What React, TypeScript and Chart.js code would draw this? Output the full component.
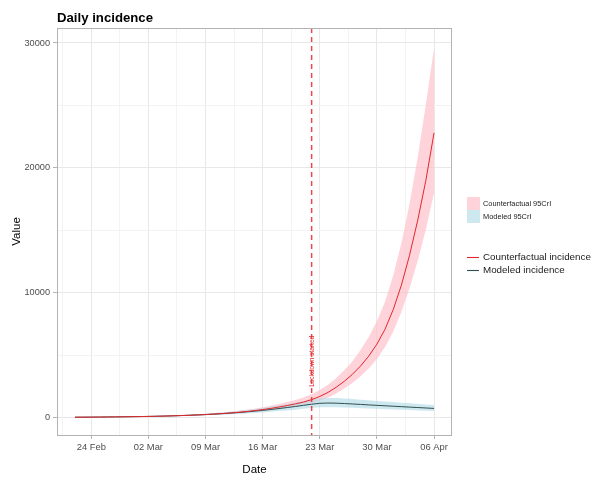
import React, { useEffect, useRef } from 'react';
import { Chart, registerables } from 'chart.js';

Chart.register(...registerables);

// ---------- data ----------
const START_DATE = '2020-02-22';
// day offsets from START_DATE (22 Feb .. 06 Apr)
const DAYS = [
  0, 1, 2, 3, 4, 5, 6, 7, 8, 9, 10, 11, 12, 13, 14, 15, 16, 17, 18, 19, 20, 21, 22,
  23, 24, 25, 26, 27, 28, 29, 30, 31, 32, 33, 34, 35, 36, 37, 38, 39, 40, 41, 42, 43, 44,
];

const counterfactual = [
  25, 29, 33, 38, 44, 50, 58, 67, 77, 89, 102, 118, 135, 156, 180, 207, 240, 275, 315, 362, 415, 478, 550,
  635, 730, 840, 960, 1090, 1240, 1430, 1690, 2010, 2420, 2900, 3460, 4130, 4920, 5880, 7080, 8650, 10600,
  13000, 15800, 19000, 22800,
];
const counterfactualLow = [
  20, 23, 26, 30, 35, 40, 46, 53, 61, 71, 81, 94, 108, 124, 143, 165, 191, 219, 251, 288, 331, 381, 438,
  506, 582, 670, 766, 870, 990, 1142, 1350, 1606, 1933, 2316, 2762, 3296, 3925, 4690, 5645, 6893, 8445,
  10350, 12560, 15080, 18000,
];
const counterfactualHigh = [
  32, 37, 42, 49, 56, 64, 74, 86, 99, 114, 131, 151, 173, 200, 231, 266, 308, 353, 404, 465, 533, 614, 707,
  817, 940, 1082, 1238, 1410, 1606, 1855, 2195, 2615, 3150, 3780, 4515, 5400, 6445, 7710, 9295, 11370, 13950,
  17120, 20840, 25100, 29600,
];
const modeled = [
  25, 29, 33, 38, 44, 50, 58, 67, 77, 89, 102, 118, 135, 156, 180, 207, 238, 272, 310, 352, 398, 450, 510,
  575, 645, 720, 800, 885, 975, 1065, 1140, 1160, 1150, 1120, 1085, 1050, 1010, 975, 940, 905, 870,
  835, 800, 765, 730,
];
const modeledLow = [
  20, 23, 26, 30, 34, 39, 45, 51, 58, 67, 76, 87, 100, 115, 132, 151, 173, 197, 224, 254, 287, 323, 365,
  410, 460, 515, 572, 632, 695, 760, 815, 830, 822, 800, 776, 750, 722, 696, 670, 645, 620,
  594, 568, 542, 515,
];
const modeledHigh = [
  31, 36, 41, 48, 55, 63, 73, 84, 97, 112, 129, 149, 171, 198, 228, 263, 303, 348, 398, 455, 518, 590, 672,
  762, 858, 962, 1072, 1188, 1310, 1435, 1540, 1570, 1560, 1520, 1475, 1430, 1378, 1330, 1285, 1238, 1192,
  1145, 1098, 1050, 1005,
];

const X_TICK_DAYS = [2, 9, 16, 23, 30, 37, 44];
const X_TICK_LABELS = ['24 Feb', '02 Mar', '09 Mar', '16 Mar', '23 Mar', '30 Mar', '06 Apr'];
const X_MINOR_DAYS = [-1.5, 5.5, 12.5, 19.5, 26.5, 33.5, 40.5];
const Y_TICKS = [0, 10000, 20000, 30000];
const Y_MINOR = [5000, 15000, 25000];

const LOCKDOWN_DAY = 29;
const LOCKDOWN_LABEL = 'Lockdown started';
const LOCKDOWN_LABEL_Y = 4500;

const TITLE = 'Daily incidence';
const X_TITLE = 'Date';
const Y_TITLE = 'Value';
const LEGEND_FILLS = ['Counterfactual 95CrI', 'Modeled 95CrI'];
const LEGEND_LINES = ['Counterfactual incidence', 'Modeled incidence'];

// ---------- styles ----------
const FONT = "'Liberation Sans', Arial, Helvetica, sans-serif";
const RED = '#e3262b';
const DASH_RED = 'rgba(230,40,45,0.85)';
const DARK = '#2f4f4f';
const PINK = 'rgba(255,192,203,0.7)';
const BLUE = 'rgba(173,216,230,0.6)';
const GRID_MAJOR = '#e8e8e8';
const GRID_MINOR = '#f3f3f3';
const BORDER = '#b3b3b3';
const TICK_TEXT = '#4d4d4d';

const pts = (vals: number[]) => DAYS.map((d, i) => ({ x: d, y: vals[i] }));

const overlayPlugin = {
  id: 'overlay',
  afterDatasetsDraw(chart: any) {
    const { ctx, chartArea: a, scales } = chart;
    const x = scales.x.getPixelForValue(LOCKDOWN_DAY);
    ctx.save();
    ctx.beginPath();
    ctx.rect(a.left, a.top, a.right - a.left, a.bottom - a.top);
    ctx.clip();
    ctx.strokeStyle = DASH_RED;
    ctx.lineWidth = 1.5;
    ctx.setLineDash([5, 4]);
    ctx.beginPath();
    ctx.moveTo(x, a.top);
    ctx.lineTo(x, a.bottom);
    ctx.stroke();
    ctx.setLineDash([]);
    ctx.translate(x + 1, scales.y.getPixelForValue(LOCKDOWN_LABEL_Y));
    ctx.rotate(-Math.PI / 2);
    ctx.fillStyle = RED;
    ctx.font = `6.5px ${FONT}`;
    ctx.textAlign = 'center';
    ctx.textBaseline = 'middle';
    ctx.fillText(LOCKDOWN_LABEL, 0, 0);
    ctx.restore();

    ctx.save();
    ctx.strokeStyle = BORDER;
    ctx.lineWidth = 1;
    ctx.strokeRect(a.left + 0.5, a.top + 0.5, a.right - a.left - 1, a.bottom - a.top);
    ctx.restore();
  },
  afterDraw(chart: any) {
    const { ctx, chartArea: a } = chart;
    ctx.save();
    // title
    ctx.fillStyle = '#000';
    ctx.font = `bold 13.2px ${FONT}`;
    ctx.textAlign = 'left';
    ctx.textBaseline = 'alphabetic';
    ctx.fillText(TITLE, a.left, 21.5);
    // axis titles
    ctx.font = `11.5px ${FONT}`;
    ctx.textAlign = 'center';
    ctx.textBaseline = 'middle';
    ctx.fillText(X_TITLE, (a.left + a.right) / 2, 470);
    ctx.save();
    ctx.translate(17, (a.top + a.bottom) / 2);
    ctx.rotate(-Math.PI / 2);
    ctx.fillText(Y_TITLE, 0, 0);
    ctx.restore();

    // legend: fills
    const lx = 467;
    const fillColors = [PINK, BLUE];
    ctx.textAlign = 'left';
    LEGEND_FILLS.forEach((label, i) => {
      const y = 197 + i * 13;
      ctx.fillStyle = fillColors[i];
      ctx.fillRect(lx, y, 13, 13);
      ctx.fillStyle = '#1a1a1a';
      ctx.font = `7.4px ${FONT}`;
      ctx.fillText(label, lx + 16, y + 6.5);
    });
    // legend: lines
    const lineColors = [RED, DARK];
    LEGEND_LINES.forEach((label, i) => {
      const y = 257.5 + i * 13;
      ctx.strokeStyle = lineColors[i];
      ctx.lineWidth = 1.1;
      ctx.beginPath();
      ctx.moveTo(lx, y);
      ctx.lineTo(lx + 12, y);
      ctx.stroke();
      ctx.fillStyle = '#1a1a1a';
      ctx.font = `9.8px ${FONT}`;
      ctx.fillText(label, lx + 16, y);
    });
    ctx.restore();
  },
};

export default function App() {
  const canvasRef = useRef<HTMLCanvasElement | null>(null);

  useEffect(() => {
    if (!canvasRef.current) return;
    const xTickSet = new Set(X_TICK_DAYS);
    const yTickSet = new Set(Y_TICKS);
    const chart = new Chart(canvasRef.current, {
      type: 'line',
      data: {
        datasets: [
          { label: 'Counterfactual incidence', data: pts(counterfactual), borderColor: RED, borderWidth: 1, pointRadius: 0, fill: false },
          { label: 'Modeled incidence', data: pts(modeled), borderColor: DARK, borderWidth: 1, pointRadius: 0, fill: false },
          { label: 'Modeled 95CrI high', data: pts(modeledHigh), borderWidth: 0, borderColor: 'transparent', backgroundColor: BLUE, pointRadius: 0, fill: '+1' },
          { label: 'Modeled 95CrI low', data: pts(modeledLow), borderWidth: 0, borderColor: 'transparent', pointRadius: 0, fill: false },
          { label: 'Counterfactual 95CrI high', data: pts(counterfactualHigh), borderWidth: 0, borderColor: 'transparent', backgroundColor: PINK, pointRadius: 0, fill: '+1' },
          { label: 'Counterfactual 95CrI low', data: pts(counterfactualLow), borderWidth: 0, borderColor: 'transparent', pointRadius: 0, fill: false },
        ],
      },
      options: {
        animation: false,
        responsive: false,
        layout: { padding: { top: 28, right: 143, left: 0, bottom: 0 } },
        plugins: { legend: { display: false }, tooltip: { enabled: false }, title: { display: false } },
        elements: { line: { tension: 0 } },
        scales: {
          x: {
            type: 'linear',
            min: -2.2,
            max: 46.2,
            afterBuildTicks: (scale: any) => {
              scale.ticks = [...X_TICK_DAYS, ...X_MINOR_DAYS].map((v) => ({ value: v }));
            },
            afterFit: (scale: any) => {
              scale.height = 43;
            },
            ticks: {
              autoSkip: false,
              maxRotation: 0,
              minRotation: 0,
              padding: 3,
              color: TICK_TEXT,
              font: { family: FONT, size: 9.4 },
              callback: (v: any) => {
                const i = X_TICK_DAYS.indexOf(Number(v));
                return i >= 0 ? X_TICK_LABELS[i] : '';
              },
            },
            grid: {
              color: (c: any) => (c.tick && xTickSet.has(c.tick.value) ? GRID_MAJOR : GRID_MINOR),
              tickColor: (c: any) => (c.tick && xTickSet.has(c.tick.value) ? BORDER : 'rgba(0,0,0,0)'),
              lineWidth: 1,
              tickLength: 4,
            },
            border: { display: false },
          },
          y: {
            type: 'linear',
            min: -1400,
            max: 31200,
            afterBuildTicks: (scale: any) => {
              scale.ticks = [...Y_TICKS, ...Y_MINOR].map((v) => ({ value: v }));
            },
            afterFit: (scale: any) => {
              scale.width = 57;
            },
            ticks: {
              autoSkip: false,
              padding: 3,
              color: TICK_TEXT,
              font: { family: FONT, size: 9.2 },
              callback: (v: any) => (yTickSet.has(Number(v)) ? String(v) : ''),
            },
            grid: {
              color: (c: any) => (c.tick && yTickSet.has(c.tick.value) ? GRID_MAJOR : GRID_MINOR),
              tickColor: (c: any) => (c.tick && yTickSet.has(c.tick.value) ? BORDER : 'rgba(0,0,0,0)'),
              lineWidth: 1,
              tickLength: 4,
            },
            border: { display: false },
          },
        },
      },
      plugins: [overlayPlugin],
    } as any);
    return () => chart.destroy();
  }, []);

  return (
    <div style={{ position: 'absolute', left: 0, top: 0, width: 595, height: 478, background: '#fff' }} data-start={START_DATE}>
      <canvas ref={canvasRef} width={595} height={478} style={{ display: 'block' }} />
    </div>
  );
}
